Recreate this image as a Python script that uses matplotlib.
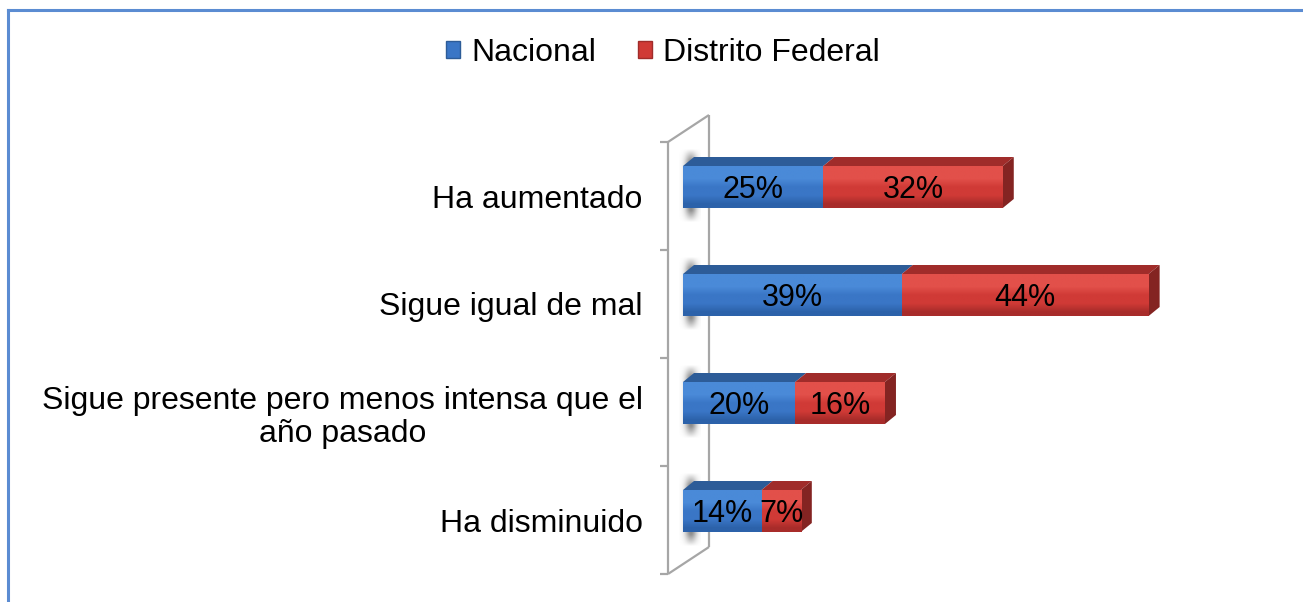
import numpy as np
import matplotlib
matplotlib.use("Agg")
import matplotlib.pyplot as plt
from matplotlib.patches import Patch, Polygon
from matplotlib.lines import Line2D
from matplotlib.colors import to_rgb

# ---------------- data ----------------
categories = ["Ha aumentado", "Sigue igual de mal",
              "Sigue presente pero menos intensa que el\naño pasado",
              "Ha disminuido"]
nacional = [25, 39, 20, 14]
distrito = [32, 44, 16, 7]
series_names = ["Nacional", "Distrito Federal"]

# ---------------- style ----------------
plt.rcParams["font.family"] = ["Liberation Sans", "DejaVu Sans"]
FS = 23
FS_VAL = 22
W, H = 1303, 602
fig = plt.figure(figsize=(W / 100, H / 100), dpi=100)
fig.patch.set_facecolor("white")

ax_left, ax_right, ax_top, ax_bot = 683, 1244, 142, 574
ax = fig.add_axes([ax_left / W, 1 - ax_bot / H, (ax_right - ax_left) / W, (ax_bot - ax_top) / H])
ax.set_xlim(0, 100)
ax.set_ylim(len(categories) - 0.5, -0.5)
for s in ax.spines.values():
    s.set_visible(False)
ax.set_xticks([])

px_x = (ax_right - ax_left) / 100.0          # pixels per x unit
px_y = (ax_bot - ax_top) / len(categories)   # pixels per y unit

bar_h = 42 / px_y
bar_shift = -9 / px_y          # front face centre above category centre
ddx = 11 / px_x                # depth offset
ddy = -9 / px_y

blue = dict(front_top="#4A8AD8", front_mid="#3A76C6", front_bot="#2C62AA",
            top="#2D5C98", side="#244C80")
red = dict(front_top="#E2504A", front_mid="#D03A36", front_bot="#A82C2A",
           top="#A02C2A", side="#842422")

y = np.arange(len(categories))
yc = y + bar_shift

def grad_img(c):
    cols = [to_rgb(c["front_top"]), to_rgb(c["front_top"]), to_rgb(c["front_mid"]),
            to_rgb(c["front_mid"]), to_rgb(c["front_bot"])]
    return np.array(cols)[:, None, :]

# wall
wall_c = "#A6A6A6"
xf = (668 - ax_left) / px_x
xb = (709 - ax_left) / px_x
dyw = -27 / px_y
y0, y1 = -0.5, len(categories) - 0.5
kw = dict(color=wall_c, lw=1.6, clip_on=False, zorder=1, solid_capstyle="butt")
ax.plot([xf, xf], [y0, y1], **kw)
ax.plot([xb, xb], [y0 + dyw, y1 + dyw], **kw)
ax.plot([xf, xb], [y0, y0 + dyw], **kw)
ax.plot([xf, xb], [y1, y1 + dyw], **kw)
tick_len = 8 / px_x
for t in np.arange(y0, y1 + 0.01, 1.0):
    ax.plot([xf - tick_len, xf], [t, t], **kw)

# soft shadows on the wall
nx, ny = 24, 40
gx = np.exp(-((np.linspace(-1, 1, nx) - 0.1) ** 2) / 0.3)
gy = np.clip(np.minimum(np.linspace(0, 1, ny), np.linspace(1, 0, ny)) * 6, 0, 1)
shadow = np.zeros((ny, nx, 4))
shadow[..., :3] = 0.5
shadow[..., 3] = 0.9 * gy[:, None] * gx[None, :]
for yy in yc:
    ax.imshow(shadow, extent=(-0.8, 3.0, yy + bar_h / 2 + 0.14, yy - bar_h / 2 - 0.16),
              aspect="auto", interpolation="bilinear", zorder=2, clip_on=False)

# bars
b1 = ax.barh(yc, nacional, height=bar_h, color=blue["front_mid"], zorder=4, lw=0)
b2 = ax.barh(yc, distrito, left=nacional, height=bar_h, color=red["front_mid"], zorder=4, lw=0)

for bars, c, lefts, vals in [(b1, blue, [0] * 4, nacional), (b2, red, nacional, distrito)]:
    for rect, l, v, yy in zip(bars, lefts, vals, yc):
        x0, x1 = l, l + v
        yt, ybm = yy - bar_h / 2, yy + bar_h / 2
        im = ax.imshow(grad_img(c), extent=(x0, x1, ybm, yt), aspect="auto",
                       interpolation="bilinear", zorder=5)
        im.set_clip_path(rect)
        top = Polygon([(x0, yt), (x1, yt), (x1 + ddx, yt + ddy), (x0 + ddx, yt + ddy)],
                      closed=True, facecolor=c["top"], edgecolor="none", zorder=4,
                      clip_on=False)
        ax.add_patch(top)

# right side of the stacked bar
for n, d, yy in zip(nacional, distrito, yc):
    x1 = n + d
    yt, ybm = yy - bar_h / 2, yy + bar_h / 2
    side = Polygon([(x1, yt), (x1 + ddx, yt + ddy), (x1 + ddx, ybm + ddy), (x1, ybm)],
                   closed=True, facecolor=red["side"], edgecolor="none", zorder=4, clip_on=False)
    ax.add_patch(side)

# data labels
for n, d, yy in zip(nacional, distrito, yc):
    ax.text(n / 2, yy + 0.03, f"{n}%", ha="center", va="center", fontsize=FS_VAL, color="black", zorder=6)
    ax.text(n + d / 2, yy + 0.03, f"{d}%", ha="center", va="center", fontsize=FS_VAL, color="black", zorder=6)

ax.set_xlim(0, 100)
ax.set_ylim(len(categories) - 0.5, -0.5)

# category labels
ax.set_yticks(y)
ax.set_yticklabels(categories, fontsize=FS)
ax.tick_params(axis="y", length=0, pad=29)
for lab in ax.get_yticklabels():
    lab.set_multialignment("center")
    lab.set_linespacing(1.15)

# legend
handles = [Patch(facecolor=blue["front_mid"], edgecolor=blue["top"], lw=1),
           Patch(facecolor=red["front_mid"], edgecolor=red["top"], lw=1)]
fig.legend(handles, series_names, loc="center", bbox_to_anchor=(663 / W, 1 - 53 / H),
           ncol=2, frameon=False, fontsize=FS, handlelength=0.45, handleheight=0.45,
           handletextpad=0.35, columnspacing=1.3)

# frame border (top and left visible)
bc = "#5B8CD2"
fig.add_artist(Line2D([7.5 / W, 7.5 / W], [0, 1 - 10 / H], color=bc, lw=2.2,
                      transform=fig.transFigure))
fig.add_artist(Line2D([7.5 / W, 1], [1 - 10 / H, 1 - 10 / H], color=bc, lw=2.2,
                      transform=fig.transFigure))

fig.savefig("out.png", dpi=100)
